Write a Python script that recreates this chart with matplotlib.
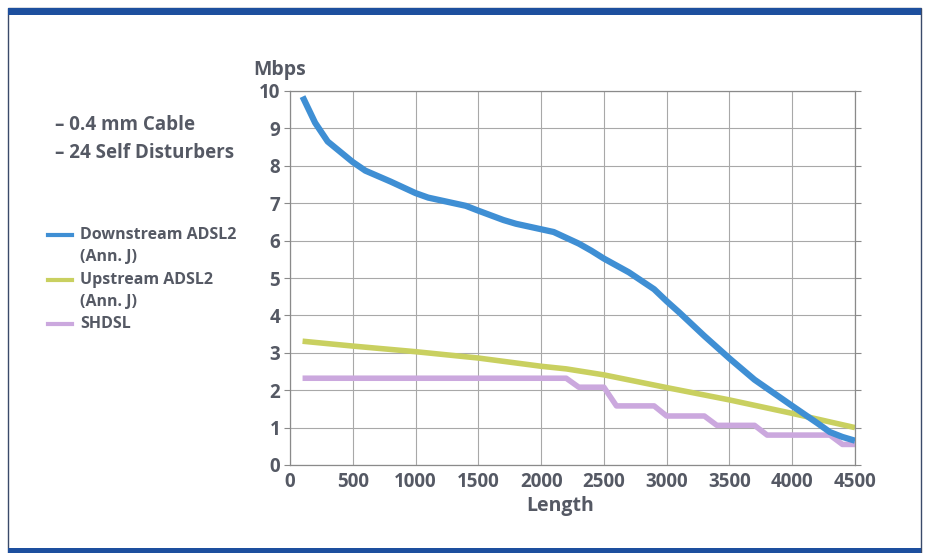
"""DSL reach chart: bit rate vs loop length for ADSL2 (Ann. J) and SHDSL."""

import matplotlib.pyplot as plt
from matplotlib.lines import Line2D
from matplotlib.patches import Rectangle

# Downstream ADSL2 (Ann. J)
down_len = [100, 200, 300, 500, 600, 800, 1000, 1100, 1400, 1500, 1700, 1800,
            2100, 2300, 2400, 2500, 2700, 2900, 3000, 3100, 3300, 3500, 3700,
            4000, 4200, 4300, 4400, 4500]
down_mbps = [9.85, 9.15, 8.65, 8.1, 7.87, 7.58, 7.27, 7.15, 6.93, 6.8, 6.55, 6.45,
             6.23, 5.92, 5.73, 5.52, 5.15, 4.7, 4.38, 4.08, 3.45, 2.85, 2.28,
             1.58, 1.12, 0.88, 0.75, 0.65]

# Upstream ADSL2 (Ann. J)
up_len = [100, 500, 1000, 1500, 2000, 2200, 2500, 3000, 3500, 4000, 4500]
up_mbps = [3.31, 3.18, 3.03, 2.86, 2.64, 2.57, 2.41, 2.07, 1.74, 1.38, 1.0]

# SHDSL (stepped)
sh_len = [100, 2200, 2300, 2500, 2600, 2900, 3000, 3300, 3400, 3700, 3800,
          4300, 4400, 4500]
sh_mbps = [2.32, 2.32, 2.08, 2.08, 1.58, 1.58, 1.31, 1.31, 1.06, 1.06, 0.8,
           0.8, 0.55, 0.55]

x_ticks = [0, 500, 1000, 1500, 2000, 2500, 3000, 3500, 4000, 4500]
y_ticks = list(range(0, 11))

BLUE = "#3f8fd4"
YELLOW = "#c9d060"
PURPLE = "#cba8de"
TEXT = "#555964"
FRAME = "#1d4f9e"

TEXT_FONT = ["Open Sans", "DejaVu Sans"]
TICK_FONT = ["Liberation Sans Narrow", "Open Sans", "DejaVu Sans"]

fig = plt.figure(figsize=(9.28, 5.53), dpi=100)
W, H = 928, 553

# page frame: thin outline + blue bars top and bottom
fig.patches.append(Rectangle((8 / W, 0), 913 / W, 1 - 8 / H, transform=fig.transFigure,
                             fill=False, edgecolor="#3a4a6a", linewidth=1.0))
fig.patches.append(Rectangle((8 / W, 1 - 15 / H), 913 / W, 7 / H, transform=fig.transFigure,
                             facecolor=FRAME, edgecolor="none"))
fig.patches.append(Rectangle((8 / W, 0), 913 / W, 5 / H, transform=fig.transFigure,
                             facecolor=FRAME, edgecolor="none"))

ax = fig.add_axes([290 / W, 1 - 465 / H, 565 / W, 374 / H])
ax.plot(down_len, down_mbps, color=BLUE, lw=4.5, solid_capstyle="butt", zorder=3)
ax.plot(up_len, up_mbps, color=YELLOW, lw=4.0, solid_capstyle="butt", zorder=2)
ax.plot(sh_len, sh_mbps, color=PURPLE, lw=4.0, solid_capstyle="butt", zorder=2)

ax.set_xlim(0, 4500)
ax.set_ylim(0, 10)
ax.set_xticks(x_ticks)
ax.set_yticks(y_ticks)
ax.grid(True, color="#a8a8a8", linewidth=0.8)
ax.set_axisbelow(True)
for side in ["left", "bottom", "right", "top"]:
    ax.spines[side].set_color("#8a8a8a")
    ax.spines[side].set_linewidth(0.9)
ax.tick_params(axis="y", which="both", left=True, right=True, direction="out",
               length=4, color="#8a8a8a", pad=3)
ax.tick_params(axis="x", length=0, pad=5)
for lab in ax.get_xticklabels() + ax.get_yticklabels():
    lab.set_family(TICK_FONT)
    lab.set_fontsize(13.5)
    lab.set_fontweight("bold")
    lab.set_color(TEXT)

# axis titles placed by hand to sit where the original has them
fig.text(560 / W, 1 - 506 / H, "Length", family=TEXT_FONT, fontsize=14,
         fontweight="bold", color=TEXT, ha="center", va="center")
fig.text(280 / W, 1 - 70 / H, "Mbps", family=TEXT_FONT, fontsize=14,
         fontweight="bold", color=TEXT, ha="center", va="center")

# conditions
fig.text(55 / W, 1 - 125 / H, "– 0.4 mm Cable", family=TEXT_FONT, fontsize=13.5,
         fontweight="bold", color=TEXT, va="center")
fig.text(55 / W, 1 - 153 / H, "– 24 Self Disturbers", family=TEXT_FONT, fontsize=13.5,
         fontweight="bold", color=TEXT, va="center")

# hand-placed legend
legend_rows = [(BLUE, 235, "Downstream ADSL2"), (None, 257, "(Ann. J)"),
               (YELLOW, 280, "Upstream ADSL2"), (None, 302, "(Ann. J)"),
               (PURPLE, 324, "SHDSL")]
for color, ypx, label in legend_rows:
    yf = 1 - ypx / H
    if color is not None:
        fig.add_artist(Line2D([48 / W, 72 / W], [yf, yf], transform=fig.transFigure,
                              color=color, lw=3.0))
    fig.text(80 / W, yf, label, family=TEXT_FONT, fontsize=11.5, fontweight="bold",
             color=TEXT, va="center")

fig.savefig("out.png", dpi=100)
